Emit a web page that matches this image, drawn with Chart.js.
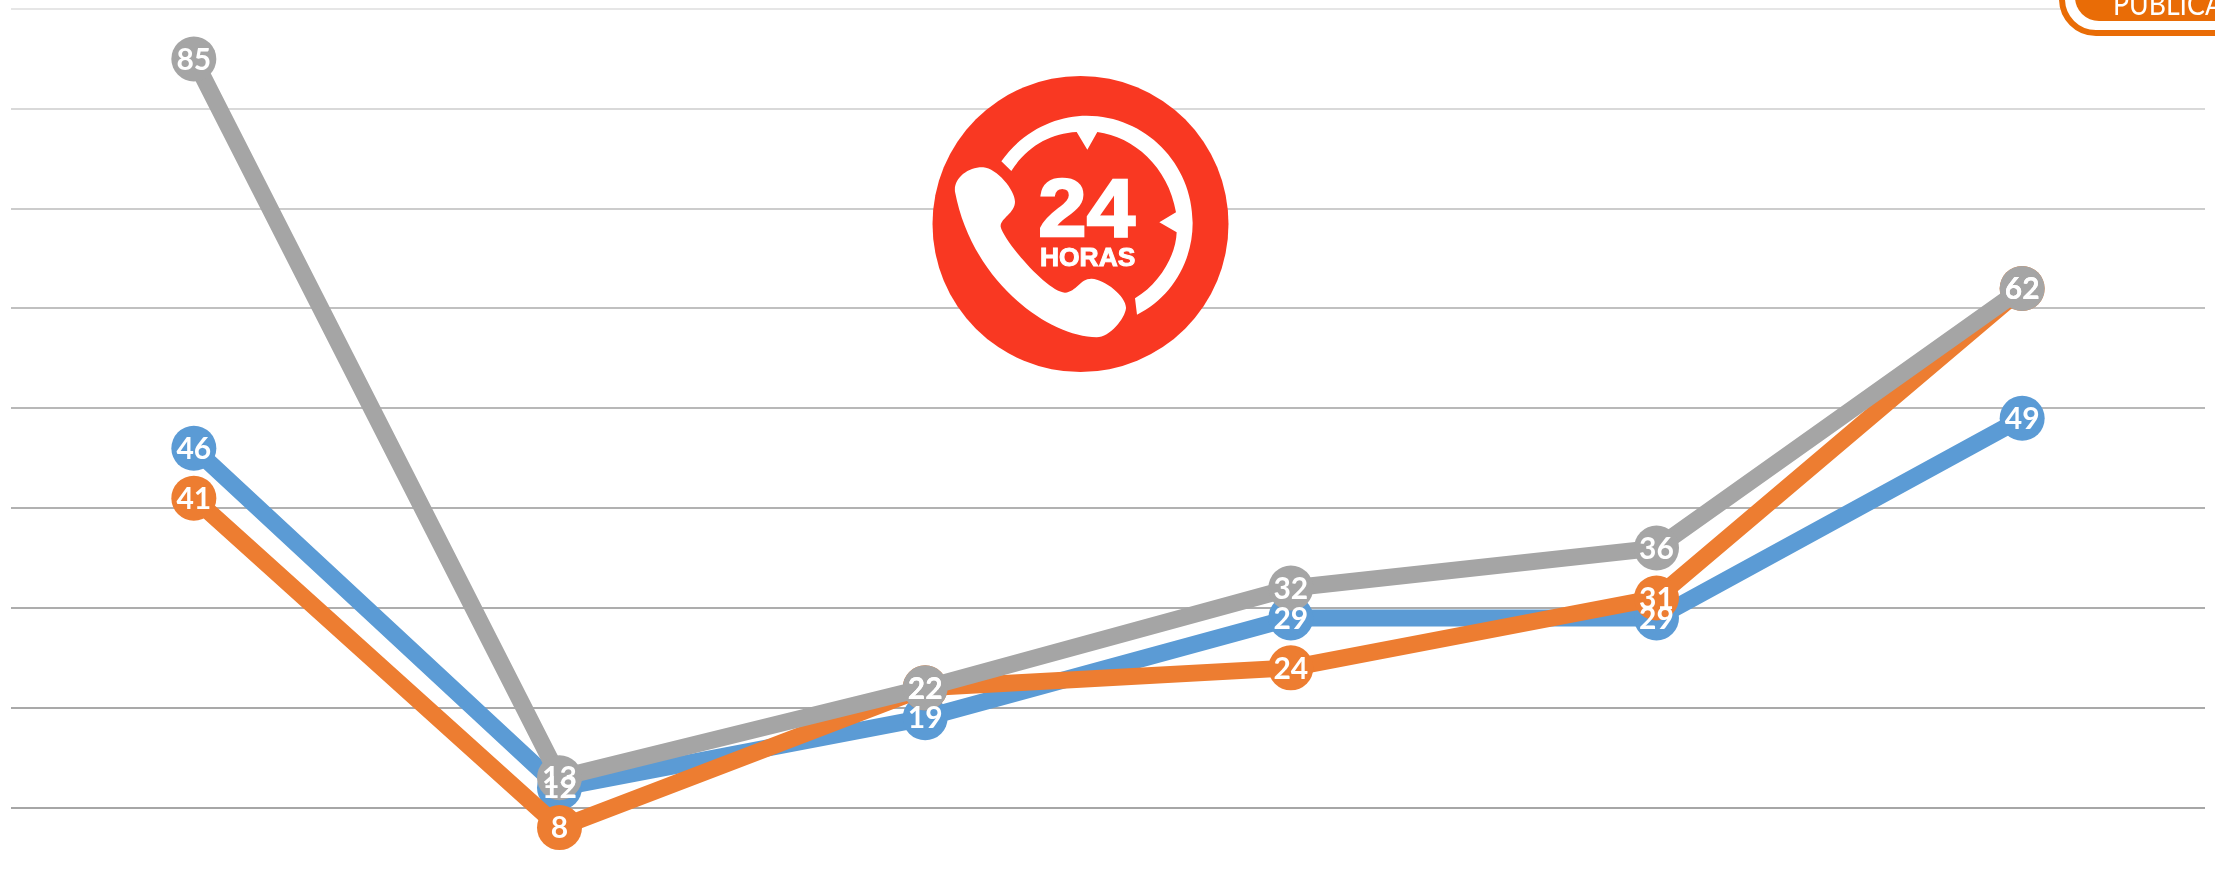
<!DOCTYPE html>
<html>
<head>
<meta charset="utf-8">
<style>
html,body{margin:0;padding:0;width:2215px;height:894px;overflow:hidden;background:#fff}
#wrap{position:absolute;left:0;top:0;width:2215px;height:894px}
canvas{display:block}
#overlay{position:absolute;left:0;top:0;pointer-events:none}
</style>
<script src="https://cdn.jsdelivr.net/npm/chart.js@4/dist/chart.umd.min.js"></script>
</head>
<body>
<div id="wrap"><canvas id="c" width="2215" height="894"></canvas></div>
<svg id="overlay" width="2215" height="894" viewBox="0 0 2215 894">
  <circle cx="1080.5" cy="224" r="148" fill="#F93822"/>
  <g transform="translate(900 50) scale(0.33333)" fill="#fff">
    <path d="M165 425 C160 385 205 350 250 352 C290 355 345 420 345 455 C345 490 300 505 302 530 C310 570 440 725 495 728 C530 725 540 685 575 686 C615 688 680 740 678 775 C675 805 630 862 590 862 C440 860 215 690 165 425 Z"/>
    <path d="M304 334 C370 240 470 197 560 197 C735 197 878 340 878 518 C878 640 810 745 711 794 L705 745 C780 700 828 615 830 547 L778 517 L828 487 C805 350 700 260 592 246 L562 299 L530 246 C450 250 380 290 334 363 Z"/>
    <text x="415" y="558" font-family="Liberation Sans" font-weight="700" font-size="246" textLength="290" lengthAdjust="spacingAndGlyphs" stroke="#fff" stroke-width="7">24</text>
    <text x="420" y="648" font-family="Liberation Sans" font-weight="700" font-size="78" textLength="286" lengthAdjust="spacingAndGlyphs" stroke="#fff" stroke-width="3">HORAS</text>
  </g>
  <rect x="2062" y="-100" width="300" height="133" rx="34" fill="#fff" stroke="#E96C06" stroke-width="6"/>
  <rect x="2075" y="-100" width="300" height="121" rx="24" fill="#E96C06"/>
  <text x="2113" y="15" font-family="Lato" font-size="30" fill="#fff" textLength="110" lengthAdjust="spacingAndGlyphs">PUBLICA</text>
</svg>
<script>
const categories = ["1", "2", "3", "4", "5", "6"];
const blueValues = [46, 12, 19, 29, 29, 49];
const orangeValues = [41, 8, 22, 24, 31, 62];
const grayValues = [85, 13, 22, 32, 36, 62];
const gridValues = [10, 20, 30, 40, 50, 60, 70, 80, 90];
const gridColors = ["#a6a6a6", "#a9a9a9", "#adadad", "#b1b1b1", "#b8b8b8", "#c0c0c0", "#cccccc", "#d9d9d9", "#e6e6e6"];

const valueLabels = {
  id: "valueLabels",
  afterDatasetsDraw(chart) {
    const ctx = chart.ctx;
    ctx.save();
    ctx.fillStyle = "#fff";
    ctx.font = "bold 30px Lato";
    ctx.textAlign = "center";
    ctx.textBaseline = "middle";
    chart.data.datasets.forEach((ds, i) => {
      chart.getDatasetMeta(i).data.forEach((pt, j) => {
        ctx.fillText(String(ds.data[j]), pt.x, pt.y + 1);
      });
    });
    ctx.restore();
  }
};

function series(values, color, order) {
  return {
    data: values,
    borderColor: color,
    backgroundColor: color,
    borderWidth: 17,
    pointRadius: 22.5,
    pointHoverRadius: 22.5,
    pointBorderWidth: 0,
    pointBackgroundColor: color,
    tension: 0,
    order: order,
    clip: false,
    borderJoinStyle: "round"
  };
}

new Chart(document.getElementById("c"), {
  type: "line",
  data: {
    labels: categories,
    datasets: [
      series(blueValues, "#5B9BD5", 3),
      series(orangeValues, "#ED7D31", 2),
      series(grayValues, "#A5A5A5", 1)
    ]
  },
  options: {
    responsive: false,
    animation: false,
    devicePixelRatio: 1,
    layout: { autoPadding: false, padding: { left: 11, right: 10, top: 9, bottom: 0 } },
    plugins: { legend: { display: false }, tooltip: { enabled: false }, title: { display: false } },
    scales: {
      x: {
        offset: true,
        grid: { display: false },
        border: { display: false },
        ticks: { display: false }
      },
      y: {
        min: 2.15,
        max: 90,
        afterBuildTicks(axis) { axis.ticks = gridValues.map(v => ({ value: v })); },
        grid: {
          color: c => gridColors[gridValues.indexOf(c.tick.value)] || "#bbb",
          lineWidth: 2,
          drawTicks: false
        },
        border: { display: false },
        ticks: { display: false }
      }
    }
  },
  plugins: [valueLabels]
});
</script>
</body>
</html>
